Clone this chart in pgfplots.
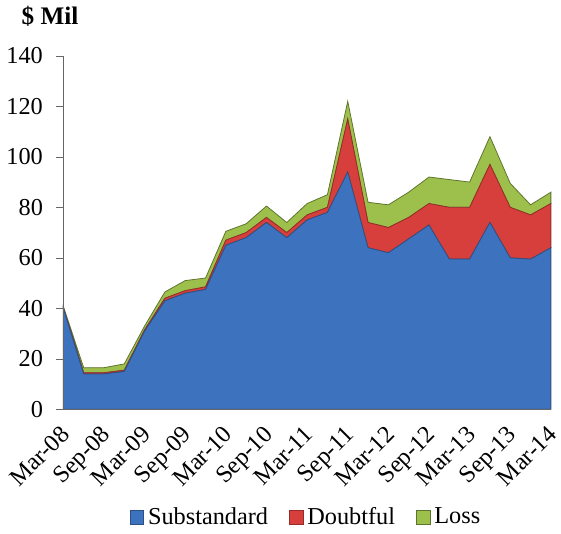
\documentclass[border=0pt]{standalone}
\usepackage{fontspec}
\setmainfont{Liberation Serif}
\usepackage{pgfplots}
\pgfplotsset{compat=1.18}
\definecolor{subst}{HTML}{3D72BE}
\definecolor{doubt}{HTML}{D63F3B}
\definecolor{loss}{HTML}{9CC04B}
\begin{document}
\begin{tikzpicture}
\begin{axis}[
    scale only axis, width=251pt, height=182pt,
    xmin=0, xmax=24, ymin=0, ymax=140,
    clip=false,
    stack plots=y, area style,
    axis lines*=left, axis line style={gray!80!black, line width=0.8pt},
    ytick={0,20,...,140}, xtick={0,2,...,24},
    xticklabels={Mar-08,Sep-08,Mar-09,Sep-09,Mar-10,Sep-10,Mar-11,Sep-11,Mar-12,Sep-12,Mar-13,Sep-13,Mar-14},
    x tick label style={rotate=45, anchor=north east, inner sep=1pt, xshift=-3pt},
    major x tick style={draw=none},
    tick align=outside, major tick length=4pt, y tick style={gray!80!black},
    y tick label style={xshift=-3pt},
    tick label style={font=\fontsize{12.5}{14}\selectfont},
    /pgf/number format/assume math mode=true,
    legend style={at={(0.5,-0.26)}, anchor=north, draw=none, legend columns=3,
        font=\fontsize{12.5}{14}\selectfont, inner sep=1pt,
        /tikz/every even column/.append style={column sep=9pt}},
    legend image code/.code={\fill[#1] (0cm,-0.12cm) rectangle (0.24cm,0.12cm);},
]
\addplot[fill=subst, draw=subst!70!black] coordinates {
(0,40)(1,14)(2,14)(3,15)(4,31)(5,43)(6,46)(7,47.5)(8,65)(9,68)(10,74)(11,68)(12,75)
(13,78)(14,94)(15,64)(16,62)(17,67.5)(18,73)(19,59.5)(20,59.5)(21,74)(22,60)(23,59.5)(24,64)
} \closedcycle;
\addplot[fill=doubt, draw=doubt!70!black] coordinates {
(0,0.3)(1,0.5)(2,0.5)(3,0.5)(4,0.5)(5,1)(6,1)(7,1)(8,2)(9,2)(10,2)(11,2)(12,2)
(13,2)(14,21)(15,10)(16,10)(17,8.5)(18,8.5)(19,20.5)(20,20.5)(21,23)(22,20)(23,17.5)(24,17.5)
} \closedcycle;
\addplot[fill=loss, draw=loss!60!black] coordinates {
(0,0.5)(1,2)(2,2)(3,2.5)(4,1.5)(5,2.5)(6,4)(7,3.5)(8,3.5)(9,3.5)(10,4.5)(11,4)(12,4.5)
(13,5)(14,7)(15,8)(16,9)(17,10)(18,10.5)(19,11)(20,10)(21,11)(22,9.5)(23,4)(24,4.5)
} \closedcycle;
\legend{Substandard,Doubtful,Loss}
\node[anchor=base west, font=\bfseries\fontsize{13}{15}\selectfont] at (rel axis cs:0,1) [xshift=-25pt, yshift=16pt] {\$ Mil};
\end{axis}
\end{tikzpicture}
\end{document}
